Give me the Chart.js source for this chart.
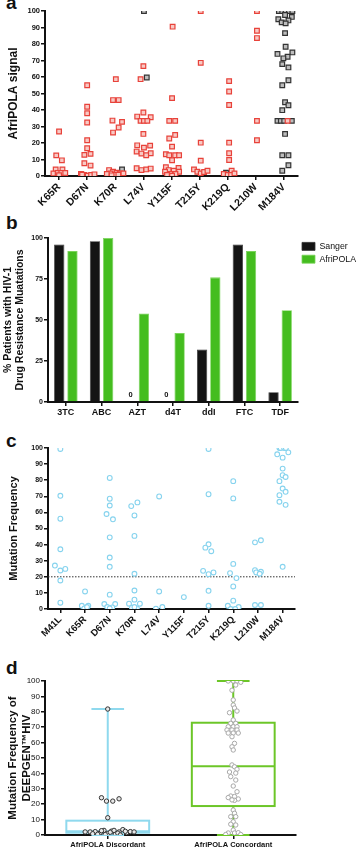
<!DOCTYPE html>
<html>
<head>
<meta charset="utf-8">
<script src="https://cdn.jsdelivr.net/npm/chart.js@4.4.1/dist/chart.umd.min.js"></script>
<style>
  html, body { margin: 0; padding: 0; background: #fff; }
  body { width: 358px; height: 847px; position: relative; overflow: hidden; font-family: "Liberation Sans", Arial, sans-serif; }
  canvas { position: absolute; left: 0; }
  .lbl { position: absolute; left: 6px; font: bold 19px/20px "Liberation Sans", Arial, sans-serif; color: #111; }
</style>
</head>
<body>
<div class="lbl" style="top:-7px">a</div>
<div class="lbl" style="top:213px">b</div>
<div class="lbl" style="top:431px">c</div>
<div class="lbl" style="top:658px">d</div>
<canvas id="ca" width="358" height="212" style="top:0px"></canvas>
<canvas id="cb" width="358" height="212" style="top:212px"></canvas>
<canvas id="cc" width="358" height="222" style="top:424px"></canvas>
<canvas id="cd" width="358" height="201" style="top:646px"></canvas>
<script>
// ---------------- DATA ----------------
// Panel a: AfriPOLA signal, rows = [categoryIndex, jitter, value]
const aCategories = ['K65R','D67N','K70R','L74V','Y115F','T215Y','K219Q','L210W','M184V'];
const aRedPoints = [
  [0,0,27],[0,-0.1,12.5],[0,0.1,9.5],[0,-0.12,4],[0,0.12,4],[0,-0.2,1.5],[0,-0.05,1.8],[0,0.08,1.8],[0,0.22,1.8],[0,0,0.5],
  [1,0,55],[1,0,42],[1,0,38],[1,0,32.4],[1,0,21.7],[1,0,16.8],[1,-0.1,12.8],[1,0.12,13.4],[1,-0.1,7.7],[1,0.12,6.3],[1,-0.22,1.2],[1,-0.1,0.6],[1,0.02,0.2],[1,0.14,0.6],[1,0.26,1],[1,-0.18,0.8],
  [2,0.02,58.7],[2,-0.08,46],[2,0.12,46],[2,-0.1,33.6],[2,0.24,32.8],[2,0.12,29.4],[2,-0.08,26.3],[2,-0.22,3.6],[2,-0.08,2.6],[2,0.05,2],[2,-0.17,1.6],[2,0.17,1.6],[2,-0.3,1.2],[2,-0.01,0.8],[2,0.11,0.8],[2,0.29,1.6],[2,-0.13,0.4],
  [3,0,66.6],[3,-0.1,58.7],[3,0,38.5],[3,-0.22,36],[3,0.26,35.6],[3,-0.1,33.4],[3,0.02,33.4],[3,0.14,33.4],[3,0,25.5],[3,-0.22,18.6],[3,0.24,18.4],[3,0.02,17.2],[3,-0.24,14.8],[3,-0.07,13.6],[3,0.26,13.8],[3,0.1,12.6],[3,-0.24,4.7],[3,-0.07,3.6],[3,0.1,4],[3,0.26,4.5],
  [4,0.04,90.5],[4,0.02,47.2],[4,-0.08,33.4],[4,0.13,33.4],[4,0.13,24.9],[4,-0.08,22.7],[4,0.02,17.8],[4,-0.2,13.2],[4,-0.08,12.6],[4,0.13,12.6],[4,0.27,12.6],[4,0.02,9.5],[4,-0.2,5.3],[4,0.25,4.9],[4,-0.1,3.6],[4,0.08,3.2],[4,-0.23,2.6],[4,0.27,2.6],[4,-0.04,1.2],[4,0.14,1.2],[4,-0.16,0.6],[4,0.02,0.2],
  [5,0.04,100],[5,0.04,68.6],[5,0.04,20.2],[5,0.04,9.3],[5,-0.2,4],[5,-0.08,2.6],[5,0.04,1.6],[5,0.16,2.4],[5,0.28,3.2],
  [6,0.05,57.5],[6,0.05,51.2],[6,0.05,43],[6,0.05,20.2],[6,0.05,13.8],[6,0.05,9.7],[6,0.14,3.2],[6,-0.14,1.2],[6,0,0.6],[6,0.12,0.6],[6,0.24,1.6],
  [7,0.04,100],[7,0.04,88],[7,0.04,83.6],[7,0.04,33.4],[7,0.04,21.7],
  [8,0.13,33.4]
];
const aBlackPoints = [
  [2,0.24,4],[3,0.02,100],[3,0.12,59.7],[6,-0.06,2],
  [8,-0.18,100],[8,-0.06,100],[8,0.06,100],[8,0.18,100],[8,0.3,100],[8,0.04,97.6],[8,0.28,96.4],[8,-0.2,95],[8,0.16,94.3],[8,-0.08,93.1],[8,0.06,92.5],
  [8,0.04,86.6],[8,0.06,78.3],[8,-0.23,74],[8,0.3,74.9],[8,0.13,72.3],[8,-0.02,71.3],[8,-0.06,67.8],[8,0.16,65.8],[8,0.16,58],[8,-0.06,55],
  [8,0.04,44.7],[8,0.16,42.9],[8,-0.06,39.9],[8,-0.23,33.4],[8,-0.11,33.4],[8,0.01,33.4],[8,0.28,33.4],[8,0.04,25.5],[8,-0.06,12.6],[8,0.16,12.6],[8,0.16,6.5],[8,-0.06,3.2]
];
const aTicks = [0,10,20,30,40,50,60,70,80,90,100];

// Panel b: % patients with HIV-1 drug resistance mutations
const bCategories = ['3TC','ABC','AZT','d4T','ddI','FTC','TDF'];
const bSanger = [96, 98, 0, 0, 32, 96, 6];
const bAfriPOLA = [92, 100, 54, 42, 76, 92, 56];

// Panel c: mutation frequency, rows = [categoryIndex, jitter, value]
const cCategories = ['M41L','K65R','D67N','K70R','L74V','Y115F','T215Y','K219Q','L210W','M184V'];
const cPoints = [
  [0,0,99.4],[0,0,70.3],[0,0,56.1],[0,0,37.1],[0,-0.22,27],[0,0,23.9],[0,0.2,24.9],[0,0,17.7],[0,0,3.9],
  [1,0,10.9],[1,-0.13,2],[1,0.13,2],[1,-0.03,0.4],[1,0.08,1.2],
  [2,0,81.4],[2,0,68.5],[2,0,64.3],[2,-0.13,59],[2,0.13,55.7],[2,0,44.5],[2,0,32],[2,0,26.2],[2,0,8.9],[2,-0.22,3.1],[2,0.22,3.1],[2,-0.1,1.2],[2,0.1,1],[2,0,0.4],
  [3,-0.13,63.9],[3,0.12,66.2],[3,0,58.1],[3,0,45.4],[3,0,21.9],[3,0,11.5],[3,0,5.8],[3,-0.22,3.3],[3,0.22,3.3],[3,-0.1,0.8],[3,0.1,0.4],[3,0,1.2],
  [4,0,69.9],[4,0,10.9],[4,-0.13,0.2],[4,0.13,1.2],
  [5,0,7.4],
  [6,0,99.4],[6,0,71.3],[6,0,40.2],[6,-0.13,38.1],[6,0.11,35.9],[6,-0.22,23.7],[6,0,21.6],[6,0.2,22.7],[6,0,11.3],[6,0,2],
  [7,0,79.4],[7,0,68.7],[7,0,28],[7,-0.13,22.3],[7,0.13,19.2],[7,0,14],[7,0,5.2],[7,-0.22,2],[7,0.22,1.2],[7,-0.1,0],[7,0.08,0],
  [8,-0.12,41.4],[8,0.12,42.7],[8,-0.12,24.1],[8,-0.07,22.7],[8,0.12,23.1],[8,0.07,21.9],[8,-0.12,2.5],[8,0.12,2.5],
  [9,-0.13,100],[9,-0.08,100],[9,0.06,100],[9,0.13,100],[9,-0.22,96.1],[9,0.23,97.3],[9,0,94],[9,0,87.2],[9,0,83.1],[9,0.12,82],[9,-0.13,79.4],[9,0,74.8],[9,0.12,72.8],[9,-0.13,70.7],[9,-0.13,66.6],[9,0.12,64.7],[9,0,26.2]
];
const cThreshold = 20;

// Panel d: box plots of DEEPGEN HIV mutation frequency
const dCategories = ['AfriPOLA Discordant','AfriPOLA Concordant'];
const dMin = [0, 0];
const dQ1 = [1.5, 18.8];
const dMedian = [2.4, 44.6];
const dQ3 = [9.3, 72.9];
const dMax = [81.8, 100];
const dDiscordantPoints = [
  [0,0,81.8],[0,-0.05,24.2],[0,-0.01,22],[0,0.04,22],[0,0.09,23.5],[0,0,11.2],
  [0,-0.18,2],[0,-0.14,2],[0,-0.1,2.2],[0,-0.06,1.5],[0,-0.03,3],[0,0,1],[0,0.03,2.5],[0,0.06,0.5],[0,0.09,2],[0,0.12,3.5],[0,0.15,1.5],[0,0.18,2.2],
  [0,-0.12,0.8],[0,-0.02,0.3],[0,0.02,1.8],[0,0.08,1.2],[0,0.1,0],[0,-0.08,0.5],[0,0.05,3],[0,0.14,2.4],[0,-0.05,2.8],[0,0.21,2]
];
const dConcordantPoints = [
  [1,-0.04,100],[1,0,100],[1,0.03,100],[1,0.06,99.2],[1,0.02,97.4],[1,-0.01,94],[1,0,87.7],[1,0,84.4],[1,0.01,82.5],[1,-0.03,79.4],[1,0.03,80.5],
  [1,0,74.7],[1,-0.02,72.5],[1,0.02,72.5],[1,-0.04,70.3],[1,0,70.3],[1,0.03,70.3],[1,-0.05,68.2],[1,-0.01,68.2],[1,0.03,68.2],[1,-0.04,66.2],[1,0,66.2],[1,0.04,66.2],
  [1,-0.01,63.8],[1,0.01,59.5],[1,-0.01,57.3],[1,0,55.2],[1,-0.01,45.5],[1,0.01,44.3],[1,0.03,42.7],[1,-0.03,40.9],[1,0.02,40.2],[1,-0.02,37.9],[1,0.02,35.7],
  [1,0,31.8],[1,0.03,28.1],[1,-0.02,25.3],[1,0.01,25],[1,-0.04,24.3],[1,0.04,23.4],[1,0.01,22.5],[1,-0.01,22.8],[1,0,16.2],[1,0.01,14.1],[1,-0.02,11.9],[1,0.02,11.9],
  [1,0,8.6],[1,-0.02,7],[1,0.02,6.5],[1,0,3.2],[1,-0.04,1.3],[1,0.01,1.3],[1,0.04,1.5],[1,-0.06,0.3],[1,0.06,0.3]
];
const dColors = ['#8fd9ee', '#6cc628'];

// ---------------- HELPERS ----------------
Chart.defaults.font.family = '"Liberation Sans", Arial, sans-serif';
Chart.defaults.color = '#111';
Chart.defaults.devicePixelRatio = 1;

const toXY = rows => rows.map(r => ({x: r[0] + r[1], y: r[2]}));
const FONT = 'Liberation Sans';

function yAxis(width, title, titleSize, titlePad, tickSize, tickBold, stepSize) {
  return {
    min: 0, max: 100,
    afterFit: s => { s.width = width; },
    border: {color: '#111', width: 2},
    grid: {drawOnChartArea: false, drawTicks: true, tickLength: 4, color: '#111', lineWidth: 1.5},
    ticks: {stepSize: stepSize, padding: 1, color: '#111', font: {size: tickSize, weight: tickBold ? 'bold' : 'normal', family: FONT}},
    title: {display: true, text: title, color: '#111', padding: {top: titlePad, bottom: 0}, font: {size: titleSize, weight: 'bold', family: FONT, lineHeight: 1.2}}
  };
}
function xCatAxis(cats, height, rot, size, bold) {
  return {
    type: 'linear', min: -0.5, max: cats.length - 0.5,
    afterFit: s => { s.height = height; },
    afterBuildTicks: s => { s.ticks = cats.map((_, i) => ({value: i})); },
    border: {color: '#111', width: 2},
    grid: {drawOnChartArea: false, drawTicks: true, tickLength: 4, color: '#111', lineWidth: 1.5},
    ticks: {autoSkip: false, minRotation: rot, maxRotation: rot, padding: 1, color: '#111',
            font: {size: size, weight: bold ? 'bold' : 'normal', family: FONT},
            callback: v => cats[v]}
  };
}
const baseOpts = {responsive: false, animation: false, devicePixelRatio: 1,
  plugins: {legend: {display: false}, tooltip: {enabled: false}}};

// ---------------- PANEL A ----------------
new Chart(document.getElementById('ca'), {
  type: 'scatter',
  data: {datasets: [
    {data: toXY(aRedPoints), pointStyle: 'rect', pointRadius: 3.3, borderWidth: 1.2, borderColor: '#e8423a', backgroundColor: '#f8c9c4'},
    {data: toXY(aBlackPoints), pointStyle: 'rect', pointRadius: 3.3, borderWidth: 1.2, borderColor: '#333', backgroundColor: '#bdbdbd'}
  ]},
  options: Object.assign({}, baseOpts, {
    layout: {padding: {left: 0, right: 60, top: 11, bottom: 0}},
    scales: {
      x: xCatAxis(aCategories, 36, 45, 10.5, true),
      y: Object.assign(yAxis(45, 'AfriPOLA signal', 12, 6, 7.5, true, 10), {afterBuildTicks: s => { s.ticks = aTicks.map(v => ({value: v})); }})
    }
  })
});

// ---------------- PANEL B ----------------
const zeroLabelPlugin = {
  id: 'zeroLabels',
  afterDatasetsDraw(chart) {
    const ctx = chart.ctx;
    const meta = chart.getDatasetMeta(0);
    ctx.save();
    ctx.font = 'bold 7.5px "Liberation Sans"';
    ctx.fillStyle = '#111';
    ctx.textAlign = 'center';
    ctx.textBaseline = 'bottom';
    bSanger.forEach((v, i) => {
      if (v === 0) { const el = meta.data[i]; ctx.fillText('0', el.x, el.y - 3); }
    });
    ctx.restore();
  }
};
new Chart(document.getElementById('cb'), {
  type: 'bar',
  data: {labels: bCategories, datasets: [
    {label: 'Sanger', data: bSanger, backgroundColor: '#141414', borderColor: '#333', borderWidth: 0.8, categoryPercentage: 0.74, barPercentage: 0.78},
    {label: 'AfriPOLA', data: bAfriPOLA, backgroundColor: '#44bd1f', borderColor: '#7ad45a', borderWidth: 0.8, categoryPercentage: 0.74, barPercentage: 0.78}
  ]},
  options: Object.assign({}, baseOpts, {
    layout: {padding: {left: 0, right: 0, top: 26, bottom: 0}},
    plugins: {tooltip: {enabled: false}, legend: {display: true, position: 'right', align: 'start', maxWidth: 60,
      labels: {boxWidth: 13, boxHeight: 8, padding: 4, color: '#111', font: {size: 8.8, family: FONT}}}},
    scales: {
      x: {
        afterFit: s => { s.height = 22; },
        border: {color: '#111', width: 2},
        grid: {offset: false, drawOnChartArea: false, drawTicks: true, tickLength: 4, color: '#111', lineWidth: 1.5},
        ticks: {padding: 1, color: '#111', font: {size: 9, weight: 'bold', family: FONT}}
      },
      y: yAxis(48, ['% Patients with HIV-1', 'Drug Resistance Muatations'], 10.5, 1.5, 7, true, 25)
    }
  }),
  plugins: [zeroLabelPlugin]
});

// ---------------- PANEL C ----------------
const thresholdPlugin = {
  id: 'threshold',
  beforeDatasetsDraw(chart) {
    const {ctx, chartArea, scales} = chart;
    const y = scales.y.getPixelForValue(cThreshold);
    ctx.save();
    ctx.strokeStyle = '#333';
    ctx.lineWidth = 1;
    ctx.setLineDash([1.5, 1.5]);
    ctx.beginPath();
    ctx.moveTo(chartArea.left, y);
    ctx.lineTo(chartArea.right, y);
    ctx.stroke();
    ctx.restore();
  }
};
new Chart(document.getElementById('cc'), {
  type: 'scatter',
  data: {datasets: [
    {data: toXY(cPoints), pointStyle: 'circle', pointRadius: 2.4, borderWidth: 1.1, borderColor: '#86d3ee', backgroundColor: '#ffffff'}
  ]},
  options: Object.assign({}, baseOpts, {
    layout: {padding: {left: 0, right: 63, top: 24, bottom: 0}},
    scales: {
      x: xCatAxis(cCategories, 37, 45, 9.5, true),
      y: yAxis(48, 'Mutation Frequency', 11, 7, 7, true, 10)
    }
  }),
  plugins: [thresholdPlugin]
});

// ---------------- PANEL D ----------------
const boxPlugin = {
  id: 'boxes',
  beforeDatasetsDraw(chart) {
    const {ctx, scales} = chart;
    const xs = scales.x, ys = scales.y;
    const unit = xs.getPixelForValue(1) - xs.getPixelForValue(0);
    dCategories.forEach((_, i) => {
      const cx = xs.getPixelForValue(i);
      const bw = unit * 0.66, cw = unit * 0.26;
      ctx.save();
      ctx.strokeStyle = dColors[i];
      ctx.lineWidth = 2;
      ctx.beginPath();
      ctx.moveTo(cx, ys.getPixelForValue(dMax[i])); ctx.lineTo(cx, ys.getPixelForValue(dQ3[i]));
      ctx.moveTo(cx, ys.getPixelForValue(dQ1[i])); ctx.lineTo(cx, ys.getPixelForValue(dMin[i]));
      ctx.moveTo(cx - cw / 2, ys.getPixelForValue(dMax[i])); ctx.lineTo(cx + cw / 2, ys.getPixelForValue(dMax[i]));
      ctx.moveTo(cx - cw / 2, ys.getPixelForValue(dMin[i])); ctx.lineTo(cx + cw / 2, ys.getPixelForValue(dMin[i]));
      ctx.stroke();
      const top = ys.getPixelForValue(dQ3[i]), bot = ys.getPixelForValue(dQ1[i]);
      ctx.strokeRect(cx - bw / 2, top, bw, bot - top);
      ctx.beginPath();
      ctx.moveTo(cx - bw / 2, ys.getPixelForValue(dMedian[i])); ctx.lineTo(cx + bw / 2, ys.getPixelForValue(dMedian[i]));
      ctx.stroke();
      ctx.restore();
    });
  }
};
new Chart(document.getElementById('cd'), {
  type: 'scatter',
  data: {datasets: [
    {data: toXY(dDiscordantPoints), pointStyle: 'circle', pointRadius: 2.2, borderWidth: 1, borderColor: '#333', backgroundColor: '#e8e8e8'},
    {data: toXY(dConcordantPoints), pointStyle: 'circle', pointRadius: 2.2, borderWidth: 1, borderColor: '#a8a8a8', backgroundColor: '#ffffff'}
  ]},
  options: Object.assign({}, baseOpts, {
    layout: {padding: {left: 0, right: 62, top: 35, bottom: 0}},
    scales: {
      x: Object.assign(xCatAxis(dCategories, 12, 0, 7.5, true), {max: 1.5}),
      y: yAxis(45, ['Mutation Frequency of', 'DEEPGEN™HIV'], 11.5, 6, 8, false, 10)
    }
  }),
  plugins: [boxPlugin]
});
</script>
</body>
</html>
